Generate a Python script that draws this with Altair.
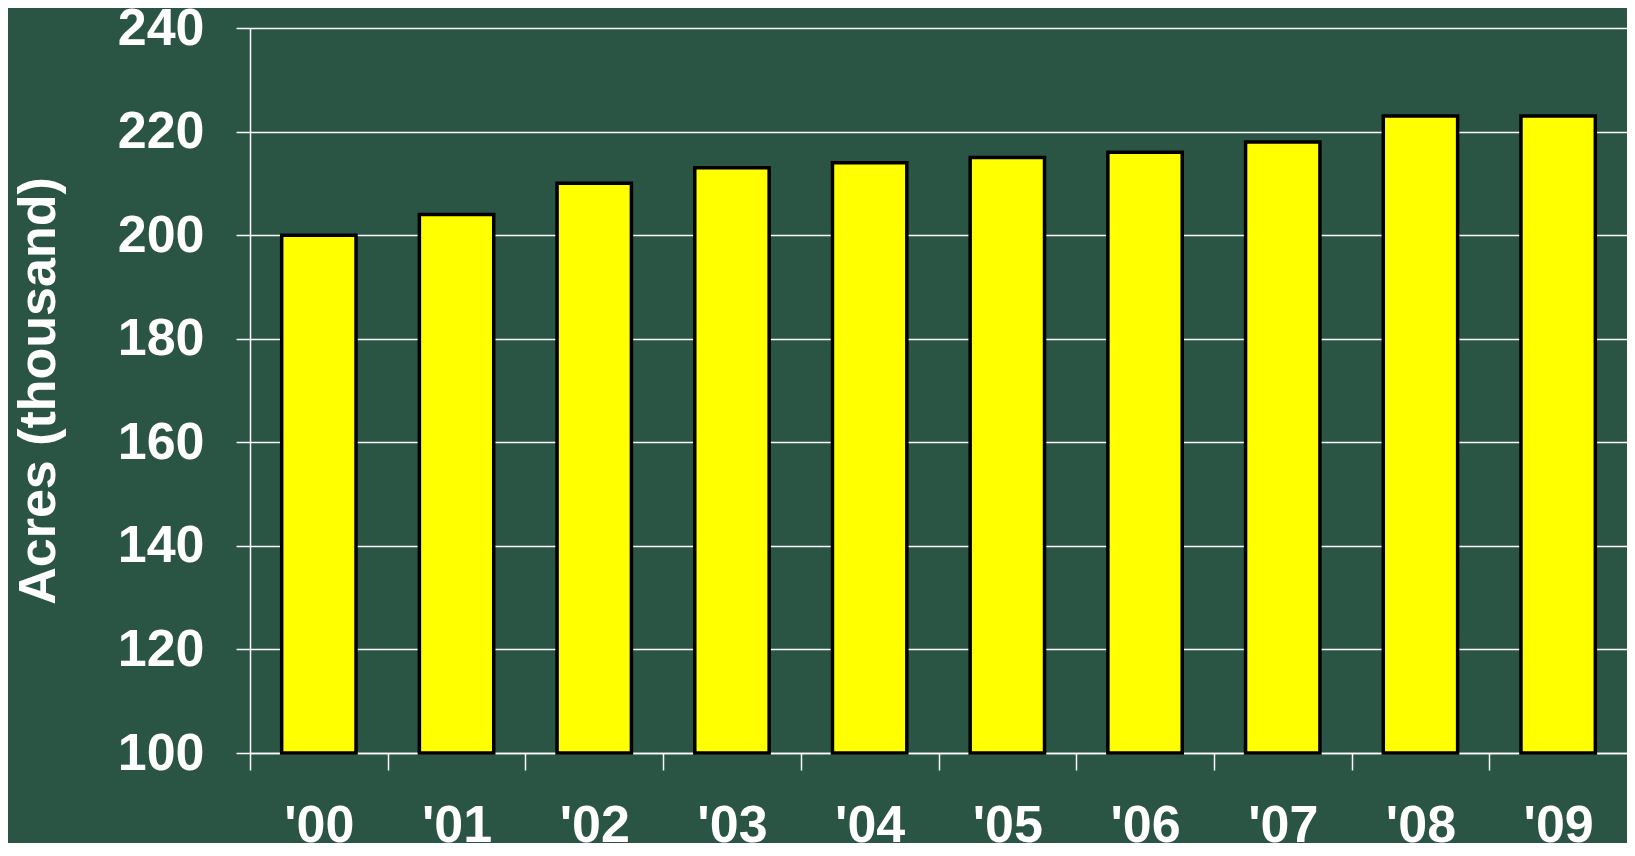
import altair as alt
import pandas as pd

years = ["'00", "'01", "'02", "'03", "'04", "'05", "'06", "'07", "'08", "'09"]
acres = [200, 204, 210, 213, 214, 215, 216, 218, 223, 223]
y_ticks = [100, 120, 140, 160, 180, 200, 220, 240]
base_value = 100

df = pd.DataFrame({"year": years, "acres": acres})

BG = "#2A5444"
FONT = "Liberation Sans"
PLOT_W = 1377
STEP = PLOT_W / len(years)

chart = alt.Chart(df).mark_bar(
    color="#FFFF00", stroke="#000000", strokeWidth=3.5
).encode(
    x=alt.X("year:N", sort=years, title=None,
            scale=alt.Scale(paddingInner=0.46, paddingOuter=0.23),
            axis=alt.Axis(labelAngle=0, labelFontSize=52, labelFont=FONT, labelFontWeight="bold",
                          labelColor="white", labelPadding=30, tickSize=17, tickColor="white",
                          tickWidth=1.5, domainColor="white", domainWidth=1.5,
                          tickOffset=-STEP / 2, labelOffset=STEP / 2,
                          labelBaseline="top", grid=False)),
    y=alt.Y("acres:Q", title="Acres (thousand)",
            scale=alt.Scale(domain=[100, 240], nice=False, zero=False),
            axis=alt.Axis(values=y_ticks, labelFontSize=52, labelFont=FONT, labelFontWeight="bold",
                          labelColor="white", labelPadding=32, tickSize=14, tickColor="white",
                          tickWidth=1.5, domainColor="white", domainWidth=1.5,
                          gridColor="white", gridWidth=1.5, grid=True,
                          titleFontSize=52, titleFont=FONT, titleFontWeight="bold",
                          titleColor="white", titlePadding=52)),
    y2=alt.Y2(datum=base_value),
).properties(
    width=PLOT_W, height=725,
    autosize=alt.AutoSizeParams(type="none"),
    padding={"left": 242, "top": 20, "right": 0, "bottom": 90},
    background=BG,
).configure_view(stroke=None)

chart.save("out.html", embed_options={"renderer": "svg", "actions": False})
